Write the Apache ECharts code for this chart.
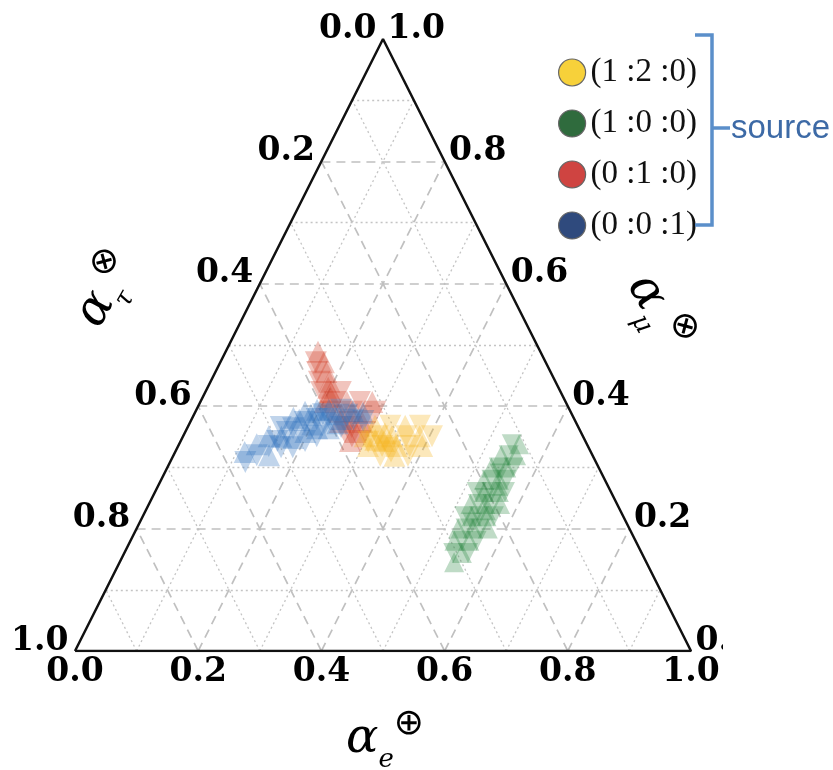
<!DOCTYPE html>
<html><head><meta charset="utf-8">
<script src="https://cdn.jsdelivr.net/npm/echarts@6/dist/echarts.min.js"></script>
<style>html,body{margin:0;padding:0;background:#fff}#c{width:833px;height:770px}</style>
</head><body><div id="c"></div>
<script>
// ---- data: ternary compositions [alpha_e, alpha_mu] (alpha_tau = 1 - e - mu)
const seriesNames = ['(1 :2 :0)', '(1 :0 :0)', '(0 :1 :0)', '(0 :0 :1)'];
const legendColors = ['#f7d13a', '#2f6b3d', '#cf4441', '#2f4a7d'];
const cloudColors = ['#f4b41c', '#2c8843', '#d13a26', '#2f6fbe'];

const yellowCloud = [
  [0.303,0.368],[0.328,0.368],[0.352,0.368],[0.376,0.368],
  [0.295,0.351],[0.316,0.351],[0.339,0.351],[0.362,0.351],[0.384,0.351],[0.404,0.351],
  [0.308,0.335],[0.331,0.335],[0.354,0.335],[0.376,0.335],[0.396,0.335],
  [0.336,0.319],[0.359,0.319],[0.381,0.319],
  [0.315,0.345],[0.342,0.332],[0.325,0.356],[0.305,0.342],[0.330,0.343],[0.350,0.326]
];
const greenCloud = [
  [0.543,0.145],
  [0.534,0.160],[0.548,0.160],[0.558,0.160],
  [0.526,0.180],[0.538,0.180],[0.550,0.180],[0.562,0.180],
  [0.522,0.200],[0.534,0.200],[0.546,0.200],[0.558,0.200],[0.570,0.200],
  [0.522,0.220],[0.534,0.220],[0.546,0.220],[0.558,0.220],[0.570,0.220],
  [0.522,0.240],[0.534,0.240],[0.546,0.240],[0.558,0.240],[0.570,0.240],
  [0.522,0.260],[0.534,0.260],[0.546,0.260],[0.558,0.260],[0.568,0.260],
  [0.524,0.280],[0.536,0.280],[0.548,0.280],[0.560,0.280],
  [0.526,0.300],[0.538,0.300],[0.550,0.300],[0.562,0.300],
  [0.532,0.320],[0.544,0.320],[0.556,0.320],
  [0.540,0.338],[0.552,0.338],
  [0.540,0.210],[0.552,0.230],[0.540,0.250],[0.552,0.270],[0.544,0.290]
];
const redCloud = [
  [0.150,0.489],
  [0.155,0.472],[0.168,0.472],
  [0.165,0.456],[0.180,0.456],
  [0.176,0.440],[0.193,0.440],
  [0.188,0.423],[0.204,0.423],[0.220,0.423],
  [0.202,0.407],[0.219,0.407],[0.238,0.407],[0.259,0.407],[0.279,0.407],
  [0.219,0.391],[0.235,0.391],[0.254,0.391],[0.274,0.391],[0.292,0.391],
  [0.243,0.374],[0.259,0.374],[0.279,0.374],
  [0.259,0.358],[0.276,0.358],[0.292,0.358],
  [0.275,0.343],[0.291,0.343],
  [0.207,0.415],[0.274,0.351],[0.196,0.430],[0.266,0.366]
];
const blueCloud = [
  [0.113,0.325],[0.122,0.309],
  [0.126,0.338],[0.135,0.320],
  [0.139,0.351],[0.147,0.335],[0.155,0.320],
  [0.151,0.366],[0.160,0.350],[0.168,0.333],
  [0.164,0.381],[0.172,0.364],[0.180,0.348],[0.187,0.333],
  [0.178,0.391],[0.186,0.374],[0.195,0.358],[0.202,0.343],
  [0.196,0.394],[0.203,0.379],[0.211,0.364],[0.217,0.351],
  [0.215,0.394],[0.223,0.379],[0.230,0.364],
  [0.235,0.394],[0.242,0.379],[0.249,0.366],
  [0.255,0.392],[0.263,0.378],
  [0.273,0.389],[0.280,0.376],
  [0.190,0.386],[0.209,0.387],[0.228,0.387],[0.249,0.386],[0.175,0.378],[0.165,0.358],
  [0.200,0.370],[0.220,0.372],[0.240,0.372],[0.157,0.343]
];

const tickValues = [0.0, 0.2, 0.4, 0.6, 0.8, 1.0];
const gridMajor = [0.2, 0.4, 0.6, 0.8];
const gridMinor = [0.1, 0.3, 0.5, 0.7, 0.9];

// ---- ternary -> cartesian helper (e, mu) -> [x, y] in unit triangle space
function toXY(e, mu) { return [e + mu / 2, mu]; }

function gridLines(vals) {
  const out = [];
  vals.forEach(v => {
    out.push({ coords: [toXY(0, v), toXY(1 - v, v)] });          // constant mu
    out.push({ coords: [toXY(v, 0), toXY(v, 1 - v)] });          // constant e
    out.push({ coords: [toXY(1 - v, 0), toXY(0, 1 - v)] });      // constant tau
  });
  return out;
}

const FONT = 'DejaVu Serif';
const TICK_SIZE = 33;
const txtColor = '#000000';

function tickSeries(points, labelOpt) {
  return {
    type: 'scatter', symbolSize: 1, silent: true, z: 6,
    itemStyle: { color: 'rgba(0,0,0,0)' },
    data: points,
    label: Object.assign({ show: true, fontFamily: FONT, fontWeight: 'bold', fontSize: TICK_SIZE, color: txtColor, opacity: 1 }, labelOpt)
  };
}

function cloud(name, pts, idx, size) {
  return {
    type: 'scatter', name: name, symbol: 'triangle', symbolSize: size, silent: true, z: 3,
    itemStyle: { color: cloudColors[idx], opacity: 0.3 },
    data: pts.map((p, i) => ({ value: toXY(p[0], p[1]), symbolRotate: (i % 2) ? 180 : 0 }))
  };
}

const richTitle = {
  a: { fontFamily: FONT, fontStyle: 'italic', fontSize: 48, lineHeight: 66, verticalAlign: 'middle', fill: txtColor },
  s: { fontFamily: FONT, fontStyle: 'italic', fontSize: 26, lineHeight: 26, verticalAlign: 'bottom', fill: txtColor },
  p: { fontFamily: 'DejaVu Sans', fontSize: 36, lineHeight: 34, verticalAlign: 'top', fill: txtColor }
};

const chart = echarts.init(document.getElementById('c'));
chart.setOption({
  animation: false,
  backgroundColor: '#ffffff',
  grid: { left: 75, right: 142, top: 39, bottom: 119 },
  xAxis: { type: 'value', min: 0, max: 1, show: false },
  yAxis: { type: 'value', min: 0, max: 1, show: false },
  legend: {
    orient: 'vertical', left: 553, top: 51, itemWidth: 27, itemHeight: 27, itemGap: 18,
    icon: 'circle', selectedMode: false,
    textStyle: { fontFamily: 'Liberation Serif', fontSize: 33, color: '#111', lineHeight: 27 },
    data: seriesNames.map((n, i) => ({ name: n, itemStyle: { color: legendColors[i], borderColor: '#666', borderWidth: 1.2, opacity: 1 } }))
  },
  series: [
    { type: 'lines', coordinateSystem: 'cartesian2d', silent: true, z: 1,
      lineStyle: { color: '#c4c4c4', width: 1.3, type: [2, 3], opacity: 1 },
      data: gridLines(gridMinor) },
    { type: 'lines', coordinateSystem: 'cartesian2d', silent: true, z: 1,
      lineStyle: { color: '#c0c0c0', width: 1.7, type: [9, 6], opacity: 1 },
      data: gridLines(gridMajor) },
    cloud(seriesNames[2], redCloud, 2, 22),
    cloud(seriesNames[3], blueCloud, 3, 22),
    cloud(seriesNames[0], yellowCloud, 0, 22),
    cloud(seriesNames[1], greenCloud, 1, 20),
    { type: 'line', silent: true, z: 5, symbol: 'none',
      lineStyle: { color: '#111111', width: 2.5 },
      data: [toXY(0, 0), toXY(1, 0), toXY(0, 1), toXY(0, 0)] },
    // bottom axis: alpha_e
    tickSeries(tickValues.map(v => ({ value: toXY(v, 0), label: { formatter: v.toFixed(1) } })),
      { position: 'bottom', distance: 4 }),
    // left axis: alpha_tau
    tickSeries(tickValues.map(v => ({ value: toXY(0, 1 - v), label: { formatter: v.toFixed(1) } })),
      { position: [-6, 7], align: 'right', verticalAlign: 'bottom' }),
    // right axis: alpha_mu
    tickSeries(tickValues.map(v => ({ value: toXY(1 - v, v), label: { formatter: v.toFixed(1) } })),
      { position: [5, 7], align: 'left', verticalAlign: 'bottom' })
  ],
  graphic: [
    { type: 'rect', z: 100, shape: { x: 723, y: 600, width: 110, height: 110 }, style: { fill: '#ffffff' } },
    { type: 'polyline', z: 100, shape: { points: [[695, 35], [712, 35], [712, 225], [695, 225]] },
      style: { stroke: '#5b8fca', lineWidth: 3.5, fill: null } },
    { type: 'line', z: 100, shape: { x1: 712, y1: 128, x2: 730, y2: 128 }, style: { stroke: '#5b8fca', lineWidth: 3.5 } },
    { type: 'text', z: 100, x: 731, y: 129,
      style: { text: 'source', fontFamily: 'Liberation Sans', fontSize: 33, fill: '#3d6aa6', align: 'left', verticalAlign: 'middle' } },
    // axis titles
    { type: 'text', z: 100, x: 385, y: 740,
      style: { text: '{a|α}{s|e}{p|⊕}', align: 'center', verticalAlign: 'middle', fill: txtColor, rich: richTitle } },
    { type: 'text', z: 100, x: 107, y: 290, rotation: Math.PI / 3,
      style: { text: '{a|α}{s|τ}{p|⊗}', align: 'center', verticalAlign: 'middle', fill: txtColor, rich: richTitle } },
    { type: 'text', z: 100, x: 658, y: 313, rotation: -Math.PI / 3,
      style: { text: '{a|α}{s|μ}{p|⊗}', align: 'center', verticalAlign: 'middle', fill: txtColor, rich: richTitle } }
  ]
});
</script></body></html>
